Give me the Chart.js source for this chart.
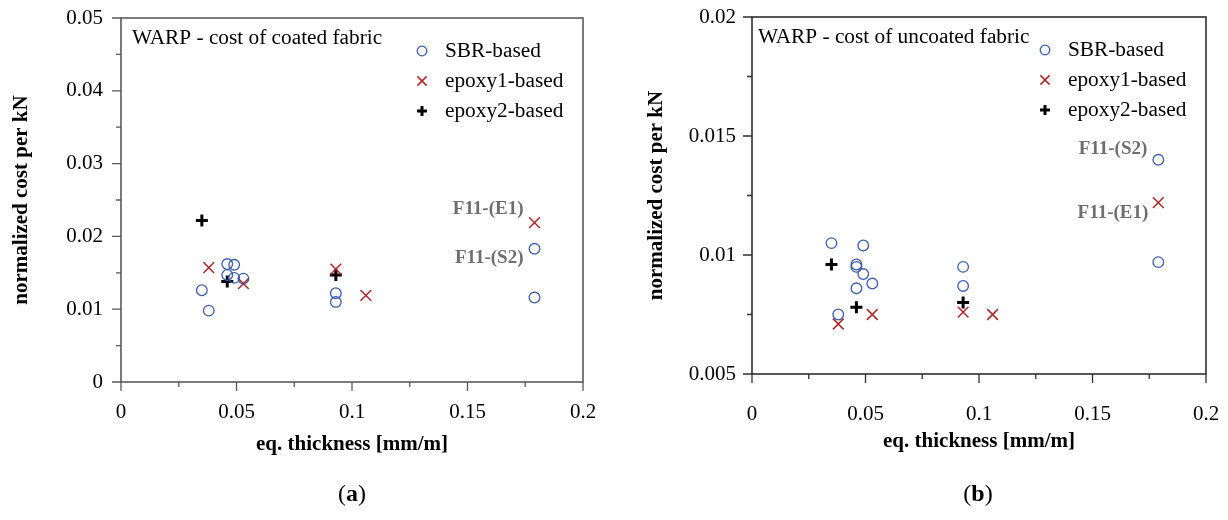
<!DOCTYPE html>
<html lang="en">
<head>
    <meta charset="UTF-8">
    <title>WARP - normalized cost per kN</title>
    <script src="https://cdn.jsdelivr.net/npm/chart.js@4"></script>
    <style>
        body { margin: 0; background: #fff; }
        .wrap { position: relative; width: 1228px; height: 520px; }
        .panel { position: absolute; top: 0; width: 614px; height: 520px; }
        .caption { position: absolute; top: 480px; font-family: "Liberation Serif", "Times New Roman", serif; font-size: 24px; color: #000; transform: translateX(-50%); }
        .caption b { font-weight: bold; }
    </style>
</head>
<body>
<div class="wrap">
    <div class="panel" style="left:0"><canvas id="chartA" width="614" height="520"></canvas></div>
    <div class="panel" style="left:614px"><canvas id="chartB" width="614" height="520"></canvas></div>
    <div class="caption" style="left:352px">(<b>a</b>)</div>
    <div class="caption" style="left:978px">(<b>b</b>)</div>
</div>
<script>
// shared x axis
const xTickValues = [0, 0.05, 0.1, 0.15, 0.2];
const xTickLabels = ['0', '0.05', '0.1', '0.15', '0.2'];

// (a) coated fabric
const aYTickValues = [0, 0.01, 0.02, 0.03, 0.04, 0.05];
const aYTickLabels = ['0', '0.01', '0.02', '0.03', '0.04', '0.05'];
const aSbrX = [0.035, 0.038, 0.046, 0.049, 0.046, 0.049, 0.053, 0.093, 0.093, 0.179, 0.179];
const aSbrY = [0.0126, 0.0098, 0.0162, 0.0161, 0.0147, 0.0143, 0.0142, 0.0122, 0.0110, 0.0183, 0.0116];
const aEp1X = [0.038, 0.053, 0.093, 0.106, 0.179];
const aEp1Y = [0.0157, 0.0135, 0.0155, 0.0119, 0.0219];
const aEp2X = [0.035, 0.046, 0.093];
const aEp2Y = [0.0222, 0.0138, 0.0147];
const aNotes = [
    { text: 'F11-(E1)', x: 0.179, y: 0.0219 },
    { text: 'F11-(S2)', x: 0.179, y: 0.0183 }
];

// (b) uncoated fabric
const bYTickValues = [0.005, 0.01, 0.015, 0.02];
const bYTickLabels = ['0.005', '0.01', '0.015', '0.02'];
const bSbrX = [0.035, 0.049, 0.046, 0.046, 0.049, 0.053, 0.046, 0.038, 0.093, 0.093, 0.179, 0.179];
const bSbrY = [0.0105, 0.0104, 0.0096, 0.0095, 0.0092, 0.0088, 0.0086, 0.0075, 0.0095, 0.0087, 0.0140, 0.0097];
const bEp1X = [0.038, 0.053, 0.093, 0.106, 0.179];
const bEp1Y = [0.0071, 0.0075, 0.0076, 0.0075, 0.0122];
const bEp2X = [0.035, 0.046, 0.093];
const bEp2Y = [0.0096, 0.0078, 0.0080];
const bNotes = [
    { text: 'F11-(S2)', x: 0.179, y: 0.0140 },
    { text: 'F11-(E1)', x: 0.179, y: 0.0122 }
];

const seriesNames = ['SBR-based', 'epoxy1-based', 'epoxy2-based'];

const SERIF = '"Liberation Serif", "Times New Roman", serif';
const styles = [
    { pointStyle: 'circle', radius: 5.3, borderColor: '#3a5ca8', backgroundColor: 'rgba(0,0,0,0)', borderWidth: 1.3 },
    { pointStyle: 'crossRot', radius: 7.6, borderColor: '#a8282c', backgroundColor: '#a8282c', borderWidth: 1.5 },
    { pointStyle: 'cross', radius: 6, borderColor: '#000', backgroundColor: '#000', borderWidth: 3 }
];

function pts(xs, ys) {
    return xs.map((x, i) => ({ x: x, y: ys[i] }));
}

function makeDatasets(pairs) {
    return pairs.map((p, i) => ({
        label: seriesNames[i],
        data: pts(p[0], p[1]),
        pointStyle: styles[i].pointStyle,
        pointRadius: styles[i].radius,
        pointHoverRadius: styles[i].radius,
        pointBorderColor: styles[i].borderColor,
        pointBackgroundColor: styles[i].backgroundColor,
        pointBorderWidth: styles[i].borderWidth
    }));
}

// majors plus the half-step minors between them
function withMinors(majors) {
    const out = [];
    majors.forEach((v, i) => {
        out.push({ value: v });
        if (i < majors.length - 1) out.push({ value: (v + majors[i + 1]) / 2 });
    });
    return out;
}

function labelFor(values, labels) {
    return function (v) {
        const i = values.findIndex(m => Math.abs(m - v) < 1e-9);
        return i < 0 ? '' : labels[i];
    };
}

// frame, tick marks, inner legend, title text and point notes
const decor = {
    id: 'decor',
    afterDraw(chart, args, o) {
        const { ctx, chartArea: a, scales: { x, y } } = chart;
        ctx.save();
        ctx.strokeStyle = o.axisColor;
        ctx.lineWidth = 1.6;
        ctx.strokeRect(a.left, a.top, a.right - a.left, a.bottom - a.top);

        ctx.lineWidth = 1.3;
        ctx.beginPath();
        x.ticks.forEach(t => {
            const px = x.getPixelForValue(t.value);
            const len = o.xMajors.some(m => Math.abs(m - t.value) < 1e-9) ? 9 : 5;
            ctx.moveTo(px, a.bottom);
            ctx.lineTo(px, a.bottom + len);
        });
        y.ticks.forEach(t => {
            const py = y.getPixelForValue(t.value);
            const len = o.yMajors.some(m => Math.abs(m - t.value) < 1e-9) ? 9 : 5;
            ctx.moveTo(a.left, py);
            ctx.lineTo(a.left - len, py);
        });
        ctx.stroke();

        // title inside the frame
        ctx.fillStyle = '#000';
        ctx.font = '21.3px ' + SERIF;
        ctx.textBaseline = 'middle';
        ctx.textAlign = 'left';
        ctx.fillText(o.title, a.left + o.titleDx, a.top + 20);

        // legend
        chart.data.datasets.forEach((ds, i) => {
            const ly = a.top + 33 + i * 30;
            const lx = a.right - 161;
            ctx.strokeStyle = ds.pointBorderColor;
            ctx.fillStyle = ds.pointBackgroundColor;
            ctx.lineWidth = ds.pointBorderWidth;
            Chart.helpers.drawPoint(ctx, {
                pointStyle: ds.pointStyle,
                radius: ds.pointStyle === 'circle' ? 4.8 : ds.pointStyle === 'cross' ? 5 : 6.5,
                rotation: 0,
                borderWidth: ds.pointBorderWidth
            }, lx, ly);
            ctx.fillStyle = '#000';
            ctx.fillText(ds.label, a.right - 138, ly);
        });

        // point notes
        ctx.fillStyle = '#6e6e6e';
        ctx.font = 'bold 19px ' + SERIF;
        ctx.textAlign = 'right';
        o.notes.forEach((n, i) => {
            const px = x.getPixelForValue(n.x);
            const py = y.getPixelForValue(n.y);
            ctx.fillText(n.text, px + o.noteOffsets[i][0], py + o.noteOffsets[i][1]);
        });
        ctx.restore();
    }
};

function makeChart(id, cfg) {
    const ctx = document.getElementById(id).getContext('2d');
    return new Chart(ctx, {
        type: 'scatter',
        data: { datasets: makeDatasets(cfg.series) },
        plugins: [decor],
        options: {
            responsive: false,
            animation: false,
            events: [],
            layout: { padding: { left: 0, top: cfg.top, right: cfg.right, bottom: 0 } },
            plugins: {
                legend: { display: false },
                tooltip: { enabled: false },
                decor: {
                    axisColor: cfg.axisColor,
                    xMajors: xTickValues,
                    yMajors: cfg.yValues,
                    title: cfg.title,
                    titleDx: cfg.titleDx,
                    notes: cfg.notes,
                    noteOffsets: cfg.noteOffsets
                }
            },
            scales: {
                x: {
                    type: 'linear',
                    min: 0,
                    max: 0.2,
                    afterBuildTicks: s => { s.ticks = withMinors(xTickValues); },
                    afterFit: s => {
                        s.height = cfg.xHeight;
                        s.paddingLeft = 0;
                        s.paddingRight = 0;
                    },
                    grid: { display: false },
                    border: { display: false },
                    ticks: {
                        autoSkip: false,
                        maxRotation: 0,
                        padding: cfg.xPad,
                        color: '#000',
                        font: { family: SERIF, size: 21 },
                        callback: labelFor(xTickValues, xTickLabels)
                    },
                    title: {
                        display: true,
                        text: 'eq. thickness [mm/m]',
                        color: '#000',
                        font: { family: SERIF, size: 21, weight: 'bold' },
                        padding: { top: 0, bottom: cfg.xTitlePad }
                    }
                },
                y: {
                    type: 'linear',
                    min: cfg.yValues[0],
                    max: cfg.yValues[cfg.yValues.length - 1],
                    afterBuildTicks: s => { s.ticks = withMinors(cfg.yValues); },
                    afterFit: s => {
                        s.width = cfg.yWidth;
                        s.paddingTop = 0;
                        s.paddingBottom = 0;
                    },
                    grid: { display: false },
                    border: { display: false },
                    ticks: {
                        autoSkip: false,
                        padding: cfg.yPad,
                        color: '#000',
                        font: { family: SERIF, size: 21 },
                        callback: labelFor(cfg.yValues, cfg.yLabels)
                    },
                    title: {
                        display: true,
                        text: 'normalized cost per kN',
                        color: '#000',
                        font: { family: SERIF, size: 21, weight: 'bold' },
                        padding: { top: cfg.yTitlePad, bottom: 0 }
                    }
                }
            }
        }
    });
}

makeChart('chartA', {
    series: [[aSbrX, aSbrY], [aEp1X, aEp1Y], [aEp2X, aEp2Y]],
    yValues: aYTickValues,
    yLabels: aYTickLabels,
    title: 'WARP - cost of coated fabric',
    titleDx: 11,
    notes: aNotes,
    noteOffsets: [[-11, -13], [-11, 9]],
    axisColor: '#5a5a5a',
    top: 18,
    right: 31,
    xHeight: 138,
    yWidth: 121,
    xPad: 10,
    yPad: 10,
    xTitlePad: 63,
    yTitlePad: 9
});

makeChart('chartB', {
    series: [[bSbrX, bSbrY], [bEp1X, bEp1Y], [bEp2X, bEp2Y]],
    yValues: bYTickValues,
    yLabels: bYTickLabels,
    title: 'WARP - cost of uncoated fabric',
    titleDx: 6,
    notes: bNotes,
    noteOffsets: [[-11, -11], [-10, 10]],
    axisColor: '#2e2e2e',
    top: 17,
    right: 22,
    xHeight: 146,
    yWidth: 138,
    xPad: 20,
    yPad: 8,
    xTitlePad: 66,
    yTitlePad: 30
});
</script>
</body>
</html>
